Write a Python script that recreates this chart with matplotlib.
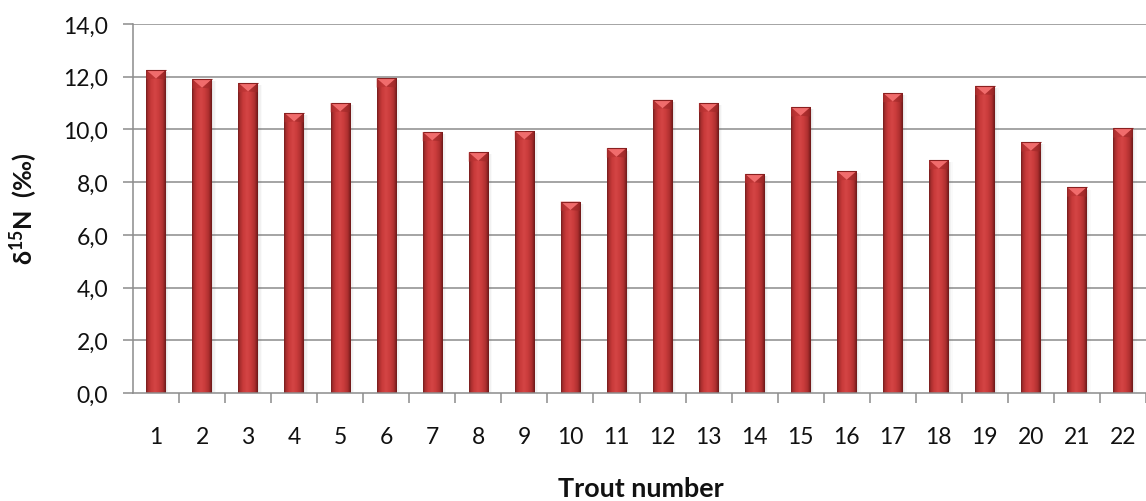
import numpy as np
import matplotlib
matplotlib.use("Agg")
import matplotlib.pyplot as plt
from matplotlib.colors import LinearSegmentedColormap
from matplotlib.patches import Polygon, Rectangle

# delta-15N values per trout
trout_ids = [str(i) for i in range(1, 23)]
d15n = [12.25, 11.90, 11.76, 10.62, 11.00, 11.94, 9.90, 9.13, 9.94, 7.26, 9.28,
        11.12, 11.00, 8.31, 10.84, 8.41, 11.38, 8.83, 11.65, 9.51, 7.80, 10.04]
y_ticks = np.arange(0, 14.01, 2.0)
y_tick_labels = [f"{v:.1f}".replace(".", ",") for v in y_ticks]

FONT = ["Lato", "DejaVu Sans"]
plt.rcParams["font.family"] = FONT
plt.rcParams["mathtext.fontset"] = "custom"
plt.rcParams["mathtext.rm"] = "Lato"
plt.rcParams["mathtext.bf"] = "Lato:bold"
plt.rcParams["mathtext.it"] = "Lato:italic"

W, H, DPI = 1146, 502, 100
fig = plt.figure(figsize=(W / DPI, H / DPI), dpi=DPI)
ax = fig.add_axes([133 / W, (H - 394) / H, (W - 133) / W, (394 - 25) / H])

n = len(d15n)
x = np.arange(n)
bar_w = 0.42
ax.set_xlim(-0.5, n - 0.5)
ax.set_ylim(0, 14)

grid_c = "#8c8c8c"
for v in y_ticks[1:]:
    ax.axhline(v, color=grid_c, lw=1.1, zorder=0)

# soft drop shadow to the right of each bar
for xi, v in zip(x, d15n):
    for k, a in enumerate([0.07, 0.05, 0.03]):
        off = 0.03 + 0.03 * k
        ax.add_patch(Rectangle((xi - bar_w / 2 + off, 0), bar_w, v - 0.08,
                               facecolor="#606060", edgecolor="none",
                               alpha=a, zorder=1))

bars = ax.bar(x, d15n, width=bar_w, color="#c83a3a", edgecolor="none", zorder=2)

# cylindrical shading across each bar
shade = LinearSegmentedColormap.from_list(
    "bevel_red",
    [(0.0, "#6f1b1b"), (0.08, "#a52d2d"), (0.25, "#c93a3a"), (0.45, "#d44545"),
     (0.62, "#cc3d3d"), (0.85, "#ae2f2f"), (1.0, "#6a1818")])
grad = np.linspace(0, 1, 64).reshape(1, -1)
tri_h = 0.32
for b in bars:
    x0, y0 = b.get_x(), b.get_y()
    bw, bh = b.get_width(), b.get_height()
    im = ax.imshow(grad, cmap=shade, aspect="auto", interpolation="bicubic",
                   extent=(x0, x0 + bw, y0, y0 + bh), zorder=3)
    im.set_clip_path(b)
    # bevelled top facet
    ax.add_patch(Polygon([(x0, y0 + bh), (x0 + bw, y0 + bh),
                          (x0 + bw / 2, y0 + bh - tri_h)],
                         closed=True, facecolor="#f06c6c", edgecolor="none",
                         zorder=4))
    ax.add_patch(Polygon([(x0, y0 + bh), (x0 + bw / 2, y0 + bh - tri_h),
                          (x0, y0 + bh - tri_h * 1.1)],
                         closed=True, facecolor="#b83232", edgecolor="none",
                         alpha=0.6, zorder=4))
    ax.add_patch(Polygon([(x0 + bw, y0 + bh), (x0 + bw / 2, y0 + bh - tri_h),
                          (x0 + bw, y0 + bh - tri_h * 1.1)],
                         closed=True, facecolor="#9e2828", edgecolor="none",
                         alpha=0.6, zorder=4))
    ax.plot([x0, x0 + bw], [y0 + bh, y0 + bh], color="#8a2020", lw=0.8,
            zorder=5, solid_capstyle="butt")

ax.set_xlim(-0.5, n - 0.5)
ax.set_ylim(0, 14)

for s in ["top", "right"]:
    ax.spines[s].set_visible(False)
for s in ["left", "bottom"]:
    ax.spines[s].set_color(grid_c)
    ax.spines[s].set_linewidth(1.1)
    ax.spines[s].set_zorder(6)

ax.set_yticks(y_ticks)
ax.set_yticklabels(y_tick_labels)
ax.set_xticks(x)
ax.set_xticklabels(trout_ids)
ax.set_xticks(np.arange(n) + 0.5, minor=True)
ax.tick_params(axis="x", which="major", length=0, pad=24, labelsize=17.5,
               labelcolor="#111111")
ax.tick_params(axis="x", which="minor", length=7, width=1.1, color=grid_c,
               direction="out")
ax.tick_params(axis="y", length=7, width=1.1, color=grid_c, pad=11,
               labelsize=17.5, labelcolor="#111111")

xlab = fig.text(641 / W, (H - 497) / H, "Trout number", ha="center",
                va="baseline", fontsize=19, fontweight="bold", color="#111111")
ylab = fig.text(24 / W, (H - 209) / H, r"$\mathbf{\delta^{15}N}$" + "  (‰)",
                rotation=90, ha="center", va="center", fontsize=20,
                fontweight="bold", color="#111111")

# scale titles and tick labels to their intended pixel extents
fig.canvas.draw()
renderer = fig.canvas.get_renderer()


def fit_size(texts, target_px, use_height):
    ref = texts[0]
    for _ in range(3):
        bb = ref.get_window_extent(renderer)
        cur = bb.height if use_height else bb.width
        size = ref.get_fontsize() * target_px / cur
        for t in texts:
            t.set_fontsize(size)
    return size


fit_size([ylab], 112, True)
fit_size([xlab], 166, False)
ytl = ax.get_yticklabels()
size = fit_size([ytl[-1]] + list(ytl[:-1]), 45, False)
ax.tick_params(axis="both", which="major", labelsize=size)

fig.savefig("out.png", dpi=DPI)
